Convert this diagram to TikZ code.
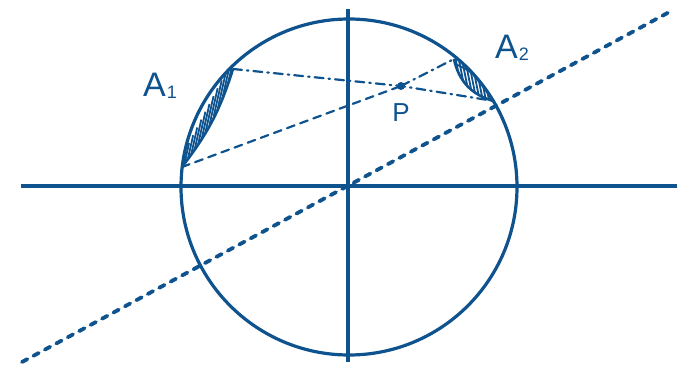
\documentclass[tikz,border=0pt]{standalone}
\usepackage{fontspec}
\setmainfont{Liberation Sans}
\usetikzlibrary{calc}
\definecolor{ink}{RGB}{14,82,142}
\begin{document}
\begin{tikzpicture}[x=1pt,y=-1pt,
  ink/.style={draw=ink,line width=3.2pt},
  thin dashed/.style={draw=ink,line width=2.2pt,dash pattern=on 8pt off 6pt,line cap=round},
  thin dashdot/.style={draw=ink,line width=2.2pt,dash pattern=on 9pt off 5pt on 1.5pt off 5pt,line cap=round},
  main dashed/.style={draw=ink,line width=3.8pt,dash pattern=on 6pt off 7pt,line cap=round},
  hatch/.style={draw=ink,line width=1.8pt},
  lbl/.style={text=ink,font=\fontsize{34}{34}\selectfont,inner sep=0pt},
  dot/.style={circle,fill=ink,inner sep=0pt,minimum size=8pt}]
\useasboundingbox (0,0) rectangle (678,380);
\coordinate (O) at (349,187);
% axes
\coordinate (xl) at (21,186);
\coordinate (xr) at (677,186);
\coordinate (yt) at (348,9);
\coordinate (yb) at (348,362);
\draw[ink] (xl) -- (xr);
\draw[ink] (yt) -- (yb);
% circle
\draw[ink] (O) circle[radius=168];
% main dashed line
\coordinate (dl) at (22,362);
\coordinate (dr) at (673,10);
\draw[main dashed] (dl) -- (dr);
% points
\coordinate (A1a) at (233,69);
\coordinate (A1b) at (182,167);
\coordinate (A2a) at (454,59);
\coordinate (A2b) at (494,101);
\node[dot] (P) at (401,86) {};
% hatched region A1
\begin{scope}
  \clip (O) circle[radius=168];
  \clip (A1a) to[bend left=10] (A1b) -- (150,200) -- (150,40) -- cycle;
  \foreach \t in {0.06,0.14,...,1.0}{
    \draw[hatch] ($($(A1b)!\t!(A1a)$)+(-4,18)$) -- ++(8,-36);
  }
\end{scope}
\draw[ink,line width=2.6pt] (A1a) to[bend left=10] (A1b);
% hatched region A2
\begin{scope}
  \clip (O) circle[radius=168];
  \clip (A2a) to[bend right=32] (A2b) -- (520,90) -- (480,40) -- cycle;
  \foreach \t in {0.05,0.15,...,1.0}{
    \draw[hatch] ($($(A2a)!\t!(A2b)$)+(-4,-20)$) -- ++(8,40);
  }
  \draw[hatch] (455,64) .. controls (470,70) and (480,78) .. (490,90);
\end{scope}
\draw[ink,line width=2.6pt] (A2a) to[bend right=32] (A2b);
% lines through P
\draw[thin dashed] (A1b) -- (P.center);
\draw[thin dashdot] (P.center) -- (A2a);
\draw[thin dashdot] (A1a) -- (P.center) -- (A2b);
% labels
\node[lbl] (lA1) at (160,86) {A\kern1pt\raisebox{-2pt}{\fontsize{18}{18}\selectfont 1}};
\node[lbl] (lA2) at (512,48) {A\kern1pt\raisebox{-2pt}{\fontsize{18}{18}\selectfont 2}};
\node[lbl,font=\fontsize{26}{26}\selectfont] (lP) at (401,113) {P};
\end{tikzpicture}
\end{document}
